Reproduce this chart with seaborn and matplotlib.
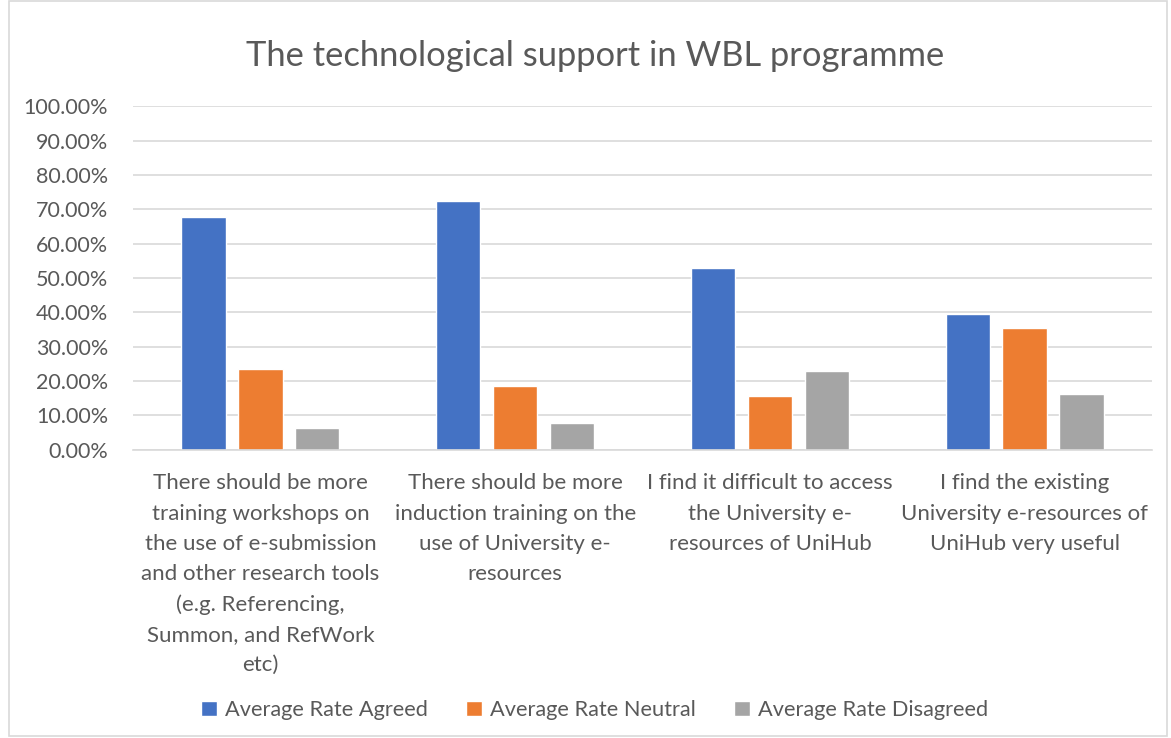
import matplotlib
matplotlib.use("Agg")
import matplotlib.pyplot as plt
import matplotlib.patches as mpatches
from matplotlib.ticker import FuncFormatter, MultipleLocator
import pandas as pd
import seaborn as sns

# Survey statements (category axis)
statements = [
    "There should be more\ntraining workshops on\nthe use of e-submission\nand other research tools\n(e.g. Referencing,\nSummon, and RefWork\netc)",
    "There should be more\ninduction training on the\nuse of University e-\nresources",
    "I find it difficult to access\nthe University e-\nresources of UniHub",
    "I find the existing\nUniversity e-resources of\nUniHub very useful",
]
series_names = ["Average Rate Agreed", "Average Rate Neutral", "Average Rate Disagreed"]

# Average response rates (%)
agreed = [67.7, 72.3, 52.9, 39.4]
neutral = [23.4, 18.7, 15.8, 35.6]
disagreed = [6.3, 7.7, 23.0, 16.2]

colors = ["#4472C4", "#ED7D31", "#A5A5A5"]

rows = []
for name, vals in zip(series_names, [agreed, neutral, disagreed]):
    for s, v in zip(statements, vals):
        rows.append({"statement": s, "series": name, "rate": v})
df = pd.DataFrame(rows)

sns.set_theme(style="white")
plt.rcParams["font.family"] = ["Lato", "DejaVu Sans"]
text_color = "#595959"
grid_color = "#D9D9D9"

fig = plt.figure(figsize=(11.71, 7.38), dpi=100)
ax = fig.add_axes([0.1136, 0.3905, 0.8702, 0.4655])

sns.barplot(data=df, x="statement", y="rate", hue="series", palette=colors,
            width=0.67, gap=0.22, ax=ax, saturation=1.0, legend=True,
            order=statements, hue_order=series_names)

ax.set_ylim(0, 100)
ax.yaxis.set_major_locator(MultipleLocator(10))
ax.yaxis.set_major_formatter(FuncFormatter(lambda v, _: f"{v:.2f}%"))
ax.grid(axis="y", color=grid_color, linewidth=1.2)
ax.set_axisbelow(True)
for side in ["top", "right", "left"]:
    ax.spines[side].set_visible(False)
ax.spines["bottom"].set_color(grid_color)
ax.spines["bottom"].set_linewidth(1.2)
ax.set_xlabel("")
ax.set_ylabel("")
ax.tick_params(axis="y", colors=text_color, labelsize=15.5, length=0, pad=18)
ax.tick_params(axis="x", colors=text_color, labelsize=16, length=0, pad=17)
for lbl in ax.get_xticklabels():
    lbl.set_linespacing(1.63)
    lbl.set_ha("center")

fig.suptitle("The technological support in WBL programme", fontsize=24.8,
             color=text_color, x=0.5085, y=0.946)

leg = ax.legend(ncol=3, frameon=False, fontsize=15.7, handlelength=0.7, handleheight=0.7,
                columnspacing=1.75, handletextpad=0.4, loc="center")
leg.set_bbox_to_anchor((0.508, 0.038), transform=fig.transFigure)
for t in leg.get_texts():
    t.set_color(text_color)

# Chart-area border
fig.patches.append(mpatches.Rectangle((0.008, 0.003), 0.989, 0.995, transform=fig.transFigure,
                                      fill=False, edgecolor="#D9D9D9", linewidth=1.2))

fig.savefig("out.png", dpi=100, facecolor="white")
